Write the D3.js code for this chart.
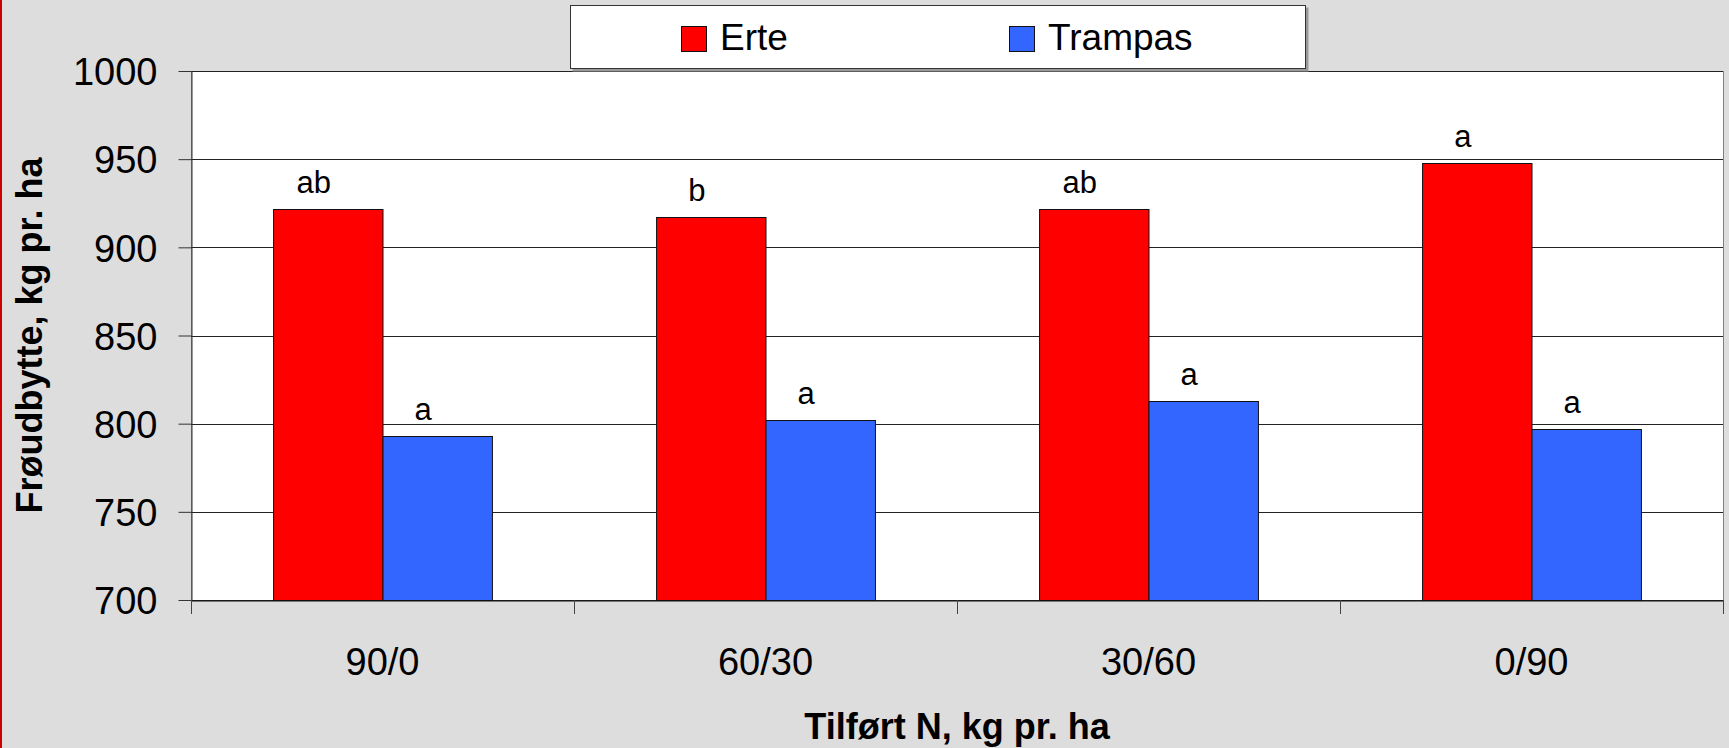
<!DOCTYPE html>
<html>
<head>
<meta charset="utf-8">
<script src="https://cdn.jsdelivr.net/npm/d3@7"></script>
<style>
  body { margin: 0; background: #dddddd; }
  svg { display: block; font-family: "Liberation Sans", Arial, sans-serif; }
</style>
</head>
<body>
<script>
// data
const categories = ["90/0", "60/30", "30/60", "0/90"];
const seriesNames = ["Erte", "Trampas"];
const erte = [922, 917, 922, 948];
const trampas = [793, 802, 813, 797];
const erteLetters = ["ab", "b", "ab", "a"];
const trampasLetters = ["a", "a", "a", "a"];
const yTicks = [700, 750, 800, 850, 900, 950, 1000];
const colors = ["#ff0000", "#3366ff"];

const width = 1729, height = 748;
const margin = { top: 71, right: 6, bottom: 148, left: 191 };
const innerW = width - margin.left - margin.right;
const innerH = height - margin.top - margin.bottom;

const rows = categories.map((c, i) => ({
  cat: c,
  vals: [
    { key: "Erte", value: erte[i], letter: erteLetters[i] },
    { key: "Trampas", value: trampas[i], letter: trampasLetters[i] }
  ]
}));

const svg = d3.select("body")
  .append("svg")
  .attr("width", width)
  .attr("height", height);

svg.append("rect")
  .attr("width", width)
  .attr("height", height)
  .attr("fill", "#dddddd");

// thin red strip on the left edge
svg.append("rect")
  .attr("width", 2)
  .attr("height", height)
  .attr("fill", "#cc0000");

const g = svg.append("g")
  .attr("transform", `translate(${margin.left},${margin.top})`);

const x = d3.scaleBand()
  .domain(categories)
  .range([0, innerW]);

const x1 = d3.scaleBand()
  .domain(seriesNames)
  .range([0, x.bandwidth()])
  .paddingOuter(0.75);

const y = d3.scaleLinear()
  .domain([700, 1000])
  .range([innerH, 0]);

const color = d3.scaleOrdinal(seriesNames, colors);

// plot area
g.append("rect")
  .attr("x", 0.5)
  .attr("y", 0.5)
  .attr("width", innerW)
  .attr("height", innerH)
  .attr("fill", "#ffffff")
  .attr("stroke", "#808080");

// gridlines
g.selectAll(".grid")
  .data(yTicks)
  .enter()
  .append("line")
  .attr("x1", 0)
  .attr("x2", innerW)
  .attr("y1", d => Math.round(y(d)) + 0.5)
  .attr("y2", d => Math.round(y(d)) + 0.5)
  .attr("stroke", "#222");

// bars
const groups = g.selectAll(".grp")
  .data(rows)
  .enter()
  .append("g")
  .attr("transform", d => `translate(${x(d.cat)},0)`);

groups.selectAll("rect")
  .data(d => d.vals)
  .enter()
  .append("rect")
  .attr("x", d => x1(d.key) + 0.5)
  .attr("y", d => Math.round(y(d.value)) + 0.5)
  .attr("width", x1.bandwidth())
  .attr("height", d => innerH - Math.round(y(d.value)))
  .attr("fill", d => color(d.key))
  .attr("stroke", "#111")
  .attr("stroke-width", 1);

// significance letters
groups.selectAll(".letter")
  .data(d => d.vals)
  .enter()
  .append("text")
  .attr("x", d => x1(d.key) + x1.bandwidth() / 2 - 14)
  .attr("y", d => y(d.value) - 16)
  .attr("text-anchor", "middle")
  .attr("font-size", 31)
  .attr("fill", "#000")
  .text(d => d.letter);

// y axis
g.append("g")
  .attr("transform", "translate(0.5,0)")
  .call(d3.axisLeft(y).tickValues(yTicks).tickFormat(d3.format("d"))
    .tickSize(13).tickSizeOuter(0).tickPadding(21))
  .call(a => a.select(".domain").attr("stroke", "#333"))
  .call(a => a.selectAll(".tick line").attr("stroke", "#333"))
  .call(a => a.selectAll("text")
    .attr("font-size", 38)
    .attr("font-family", "Liberation Sans, Arial, sans-serif")
    .attr("fill", "#000")
    .attr("dy", "0.36em"));

// x axis: labels centred, ticks on the category boundaries
g.append("g")
  .attr("transform", `translate(0,${innerH + 0.5})`)
  .call(d3.axisBottom(x).tickSize(0).tickSizeOuter(0))
  .call(a => a.select(".domain").attr("stroke", "#111"))
  .call(a => a.selectAll("text")
    .attr("font-size", 38)
    .attr("font-family", "Liberation Sans, Arial, sans-serif")
    .attr("fill", "#000")
    .attr("y", 74)
    .attr("dy", null));

g.selectAll(".xtick")
  .data(categories.map(c => x(c)).concat([innerW]))
  .enter()
  .append("line")
  .attr("x1", d => Math.round(d) + 0.5)
  .attr("x2", d => Math.round(d) + 0.5)
  .attr("y1", innerH)
  .attr("y2", innerH + 14)
  .attr("stroke", "#444");

// axis titles
svg.append("text")
  .attr("transform", `translate(42,${margin.top + innerH / 2}) rotate(-90)`)
  .attr("text-anchor", "middle")
  .attr("font-size", 36)
  .attr("font-weight", "bold")
  .text("Frøudbytte, kg pr. ha");

svg.append("text")
  .attr("x", margin.left + innerW / 2)
  .attr("y", 739)
  .attr("text-anchor", "middle")
  .attr("font-size", 36)
  .attr("font-weight", "bold")
  .text("Tilført N, kg pr. ha");

// legend
const legend = svg.append("g");

legend.append("rect")
  .attr("x", 572.5)
  .attr("y", 7.5)
  .attr("width", 736)
  .attr("height", 64)
  .attr("fill", "#999");

legend.append("rect")
  .attr("x", 570.5)
  .attr("y", 5.5)
  .attr("width", 735)
  .attr("height", 63)
  .attr("fill", "#fff")
  .attr("stroke", "#333");

const legendX = [681, 1009];

const items = legend.selectAll(".item")
  .data(seriesNames)
  .enter()
  .append("g")
  .attr("transform", (d, i) => `translate(${legendX[i]},0)`);

items.append("rect")
  .attr("x", 0.5)
  .attr("y", 26.5)
  .attr("width", 25)
  .attr("height", 25)
  .attr("fill", d => color(d))
  .attr("stroke", "#111");

items.append("text")
  .attr("x", 39)
  .attr("y", 50)
  .attr("font-size", 37)
  .text(d => d);
</script>
</body>
</html>
